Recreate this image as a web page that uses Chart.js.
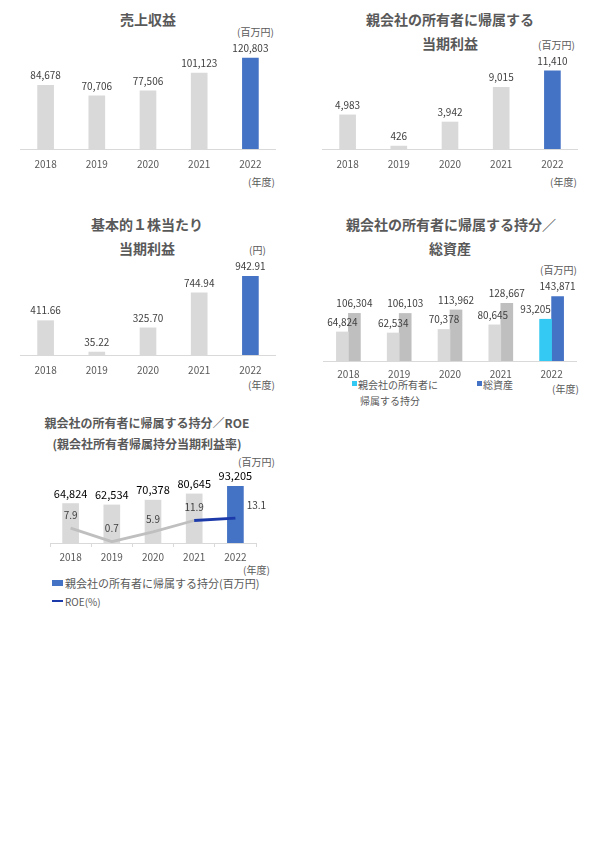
<!DOCTYPE html>
<html>
<head>
<meta charset="utf-8">
<script src="https://cdn.jsdelivr.net/npm/chart.js@4.4.0/dist/chart.umd.min.js"></script>
<style>
  body { margin: 0; background: #fff; }
  #page { position: relative; width: 600px; height: 848px; overflow: hidden; font-family: "Noto Sans CJK JP", sans-serif; color: #595959; }
  .t { position: absolute; transform: translate(-50%, -50%); white-space: nowrap; font-weight: bold; font-size: 14px; }
  .t.sm { font-size: 12px; }
  .u { position: absolute; transform: translateY(-50%); white-space: nowrap; font-size: 10px; }
  .sw { position: absolute; }
  canvas { position: absolute; }
</style>
</head>
<body>
<div id="page">
  <!-- titles -->
  <div class="t" style="left:148px;top:19px">売上収益</div>
  <div class="t" style="left:450px;top:19px">親会社の所有者に帰属する</div>
  <div class="t" style="left:450px;top:43px">当期利益</div>
  <div class="t" style="left:147px;top:224px">基本的１株当たり</div>
  <div class="t" style="left:147px;top:248px">当期利益</div>
  <div class="t" style="left:451px;top:224px">親会社の所有者に帰属する持分／</div>
  <div class="t" style="left:450px;top:248px">総資産</div>
  <div class="t sm" style="left:147px;top:422px">親会社の所有者に帰属する持分／ROE</div>
  <div class="t sm" style="left:147px;top:443px">(親会社所有者帰属持分当期利益率)</div>

  <!-- units -->
  <div class="u" style="left:237px;top:31px">(百万円)</div>
  <div class="u" style="left:248px;top:181px">(年度)</div>
  <div class="u" style="left:538px;top:44px">(百万円)</div>
  <div class="u" style="left:550px;top:181px">(年度)</div>
  <div class="u" style="left:249px;top:249px">(円)</div>
  <div class="u" style="left:248px;top:384px">(年度)</div>
  <div class="u" style="left:540px;top:269px">(百万円)</div>
  <div class="u" style="left:552px;top:388px">(年度)</div>
  <div class="u" style="left:238px;top:461px">(百万円)</div>
  <div class="u" style="left:243px;top:569px">(年度)</div>

  <!-- legend, equity / assets -->
  <div class="sw" style="left:352px;top:381px;width:5px;height:5px;background:#33c9f2"></div>
  <div class="u" style="left:358px;top:384px">親会社の所有者に</div>
  <div class="u" style="left:360px;top:400px">帰属する持分</div>
  <div class="sw" style="left:477px;top:381px;width:5px;height:5px;background:#4472c4"></div>
  <div class="u" style="left:483px;top:384px">総資産</div>

  <!-- legend, equity / ROE -->
  <div class="sw" style="left:52px;top:580px;width:11px;height:6px;background:#4472c4"></div>
  <div class="u" style="left:65px;top:583px;font-size:11px">親会社の所有者に帰属する持分(百万円)</div>
  <div class="sw" style="left:52px;top:600px;width:11px;height:2px;background:#1c3aa9"></div>
  <div class="u" style="left:65px;top:601px">ROE(%)</div>

  <canvas id="c1" width="256" height="151" style="left:20px;top:30px"></canvas>
  <canvas id="c2" width="256" height="151" style="left:322px;top:30px"></canvas>
  <canvas id="c3" width="256" height="151" style="left:20px;top:236px"></canvas>
  <canvas id="c4" width="254" height="129" style="left:323px;top:260px"></canvas>
  <canvas id="c5" width="230" height="114" style="left:50px;top:455px"></canvas>
</div>

<script>
const years = ["2018", "2019", "2020", "2021", "2022"];
const revenue = [84678, 70706, 77506, 101123, 120803];
const netIncome = [4983, 426, 3942, 9015, 11410];
const eps = [411.66, 35.22, 325.7, 744.94, 942.91];
const equity = [64824, 62534, 70378, 80645, 93205];
const totalAssets = [106304, 106103, 113962, 128667, 143871];
const roe = [7.9, 0.7, 5.9, 11.9, 13.1];

const GRAY = "#d9d9d9";
const GRAY2 = "#bfbfbf";
const BLUE = "#4472c4";
const CYAN = "#33c9f2";
const NAVY = "#1c3aa9";
const FONT = '"Noto Sans CJK JP", sans-serif';

Chart.defaults.font.family = FONT;
Chart.defaults.animation = false;

const fmtInt = (v) => v.toLocaleString("en-US");

// draws value labels above bars / points
const valueLabels = {
  id: "valueLabels",
  afterDatasetsDraw(chart) {
    const ctx = chart.ctx;
    chart.data.datasets.forEach((ds, i) => {
      const meta = chart.getDatasetMeta(i);
      if (!ds.fmt) return;
      ctx.save();
      ctx.fillStyle = ds.lblColor || "#404040";
      ctx.font = (ds.lblFont || "10px") + " " + FONT;
      ctx.textAlign = "center";
      ctx.textBaseline = "middle";
      meta.data.forEach((el, j) => {
        let dx = ds.lblShift ? ds.lblShift[j] : 0;
        if (ds.lastRight && j === meta.data.length - 1) dx = 21;
        ctx.fillText(ds.fmt(ds.data[j]), el.x + dx, el.y - (ds.lblGap || 10));
      });
      ctx.restore();
    });
  },
};

function xAxis(pad) {
  return {
    grid: { display: false, drawTicks: false },
    border: { display: true, color: GRAY },
    ticks: { color: "#595959", font: { size: 10 }, padding: pad, maxRotation: 0 },
  };
}

function simpleBar(id, values, max, fmt) {
  new Chart(document.getElementById(id), {
    type: "bar",
    data: {
      labels: years,
      datasets: [{
        data: values,
        backgroundColor: values.map((v, i) => (i === values.length - 1 ? BLUE : GRAY)),
        barThickness: 16,
        fmt: fmt,
      }],
    },
    options: {
      responsive: false,
      layout: { padding: { top: 19, bottom: 2, left: 0, right: 0 } },
      plugins: { legend: { display: false }, tooltip: { enabled: false } },
      scales: {
        x: xAxis(9),
        y: { display: false, min: 0, max: max },
      },
    },
    plugins: [valueLabels],
  });
}

simpleBar("c1", revenue, 133000, fmtInt);
simpleBar("c2", netIncome, 14600, fmtInt);
simpleBar("c3", eps, 1200, (v) => v.toFixed(2));

// equity / total assets
new Chart(document.getElementById("c4"), {
  type: "bar",
  data: {
    labels: years,
    datasets: [
      {
        label: "親会社の所有者に帰属する持分",
        data: equity,
        backgroundColor: equity.map((v, i) => (i === 4 ? CYAN : GRAY)),
        barThickness: 12,
        categoryPercentage: 0.63,
        fmt: fmtInt,
        lblShift: [0, 0, 0, -2, -10],
      },
      {
        label: "総資産",
        data: totalAssets,
        backgroundColor: totalAssets.map((v, i) => (i === 4 ? BLUE : GRAY2)),
        barThickness: 12,
        categoryPercentage: 0.63,
        fmt: fmtInt,
      },
    ],
  },
  options: {
    responsive: false,
    layout: { padding: { top: 19, bottom: 2, left: 0, right: 0 } },
    plugins: { legend: { display: false }, tooltip: { enabled: false } },
    scales: {
      x: xAxis(7),
      y: { display: false, min: 0, max: 183000 },
    },
  },
  plugins: [valueLabels],
});

// equity / ROE
new Chart(document.getElementById("c5"), {
  type: "bar",
  data: {
    labels: years,
    datasets: [
      {
        type: "line",
        label: "ROE(%)",
        data: roe,
        yAxisID: "y2",
        borderWidth: 2.8,
        pointRadius: 0,
        borderColor: GRAY2,
        segment: { borderColor: (c) => (c.p1DataIndex === 4 ? NAVY : GRAY2) },
        order: 0,
        fmt: (v) => v.toFixed(1),
        lblGap: 13,
        lastRight: true,
      },
      {
        label: "親会社の所有者に帰属する持分(百万円)",
        data: equity,
        backgroundColor: equity.map((v, i) => (i === 4 ? BLUE : GRAY)),
        barThickness: 16,
        order: 1,
        fmt: fmtInt,
        lblColor: "#000",
        lblFont: "11px",
      },
    ],
  },
  options: {
    responsive: false,
    layout: { padding: { top: 18, bottom: 2, left: 0, right: 24 } },
    plugins: { legend: { display: false }, tooltip: { enabled: false } },
    scales: {
      x: {
        grid: { display: true, drawOnChartArea: false, drawTicks: true, tickLength: 4, color: GRAY },
        border: { display: true, color: GRAY },
        ticks: { color: "#595959", font: { size: 10 }, padding: 4, maxRotation: 0 },
      },
      y: { display: false, min: 0, max: 115000 },
      y2: { display: false, min: 0, max: 37 },
    },
  },
  plugins: [valueLabels],
});
</script>
</body>
</html>
